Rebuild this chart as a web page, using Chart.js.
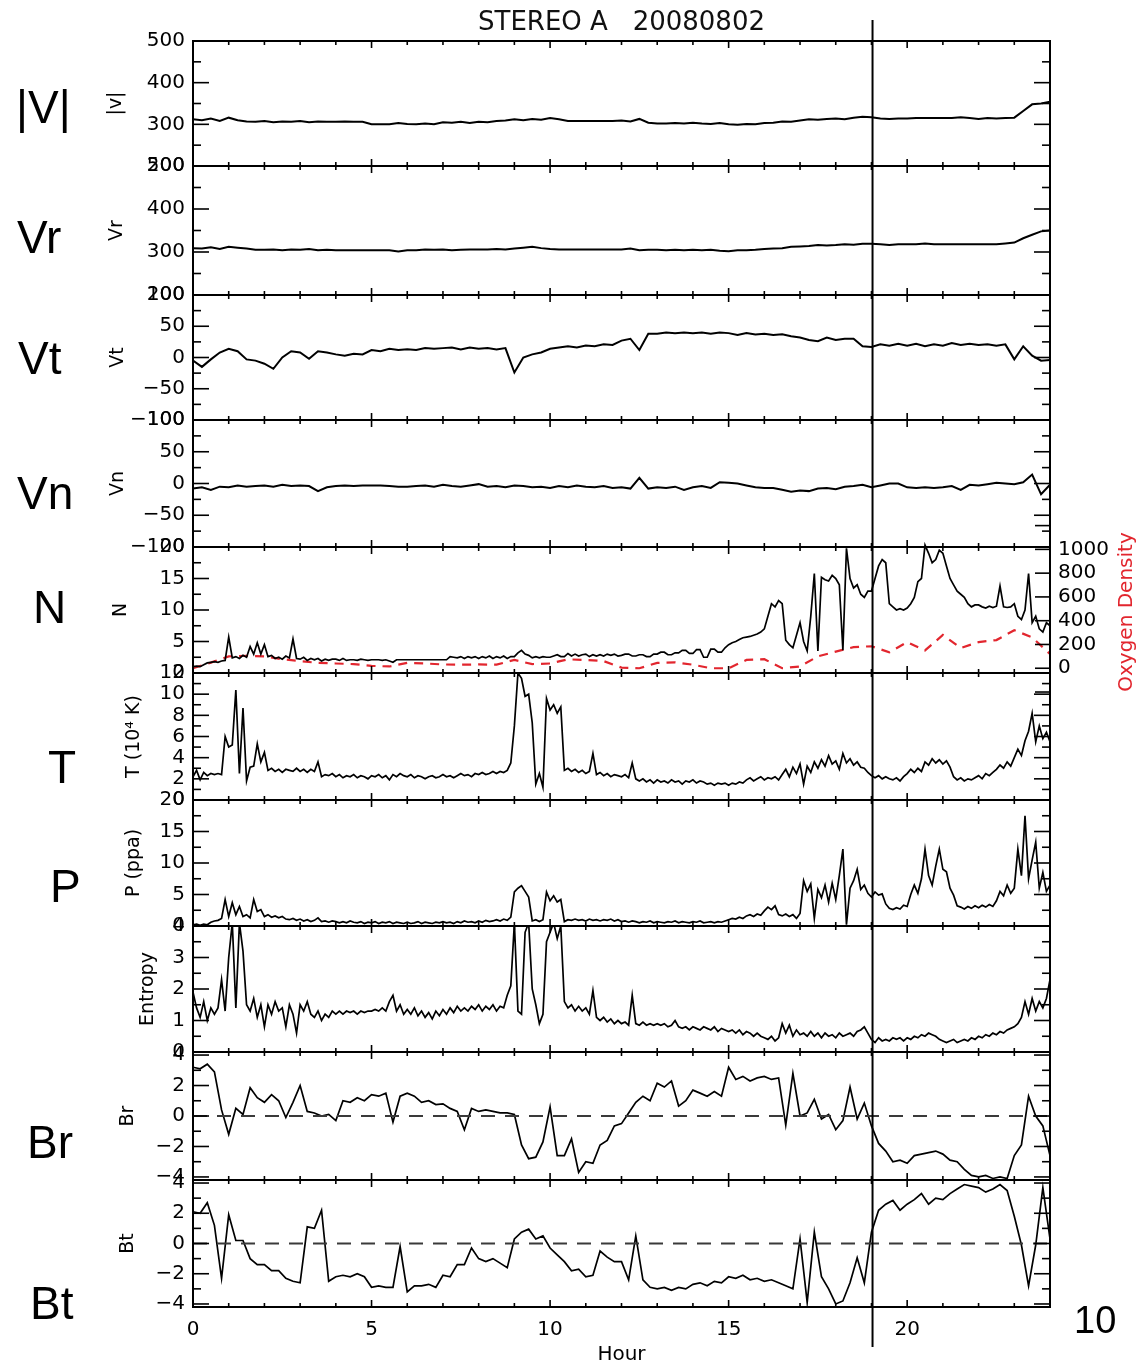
<!DOCTYPE html>
<html><head><meta charset="utf-8">
<script src="https://cdn.jsdelivr.net/npm/chart.js@4.4.1/dist/chart.umd.min.js"></script>
<style>
html,body{margin:0;padding:0;background:#fff;}
#wrap{position:relative;width:1147px;height:1369px;overflow:hidden;background:#fff;}
#wrap canvas{position:absolute;left:0;}
.big{position:absolute;z-index:5;font-family:"Liberation Sans",Arial,sans-serif;font-size:46px;line-height:46px;color:#000;white-space:nowrap;}
#title{position:absolute;z-index:5;left:0;width:1243px;text-align:center;top:8px;font-family:"DejaVu Sans",sans-serif;font-size:26px;line-height:26px;color:#111;white-space:pre;}
</style></head><body><div id="wrap"><div id="title">STEREO A   20080802</div></div>
<script>
// ---------- data ----------
const hourLabels = [0, 5, 10, 15, 20];
const markerHour = 19.03;

const vMag = [
 312,310,314,308, 316,310,307,306, 308,305,307,306, 308,305,307,306, 306,307,306,306,
 300,300,300,303, 301,300,302,300, 305,304,306,303, 306,305,308,309, 312,310,313,311,
 315,312,308,308, 308,308,308,308, 309,307,313,304, 302,302,303,302, 304,302,301,303,
 300,299,301,300, 303,304,307,306, 309,312,311,313, 314,312,316,318, 317,314,313,314,
 314,315,315,315, 315,315,317,315, 313,315,314,315, 316,332,348,350, 354];
const vRad = [
 309,308,311,307, 312,310,308,305, 305,306,304,306, 305,307,304,305, 304,304,304,304,
 304,304,304,301, 304,304,306,305, 306,304,305,306, 306,306,307,306, 308,310,312,309,
 307,306,306,306, 306,306,306,306, 306,308,304,305, 305,304,305,304, 305,304,305,303,
 302,304,304,305, 307,308,309,312, 313,314,316,315, 316,318,317,319, 319,318,316,318,
 318,318,320,318, 318,318,318,318, 318,318,318,320, 322,332,340,348, 350];
const vTan = [
 -5,-15,-3,8, 14,10,-3,-5, -10,-18,0,10, 8,-2,10,8, 5,3,6,5,
 12,10,14,12, 13,12,15,14, 15,16,13,16, 14,15,13,15, -24,0,5,8,
 14,16,18,16, 19,18,21,20, 27,30,12,38, 38,40,39,40, 39,40,38,40,
 39,36,39,37, 38,36,37,34, 32,28,26,32, 28,30,30,18, 17,21,19,22,
 19,22,18,21, 19,23,20,22, 20,21,19,21, -3,18,3,-5, -4];
const vNor = [
 -8,-6,-10,-5, -6,-3,-5,-4, -3,-5,-2,-4, -3,-4,-12,-6, -4,-3,-4,-3,
 -3,-3,-4,-5, -5,-4,-3,-5, -2,-4,-5,-3, -1,-5,-4,-6, -3,-4,-6,-5,
 -7,-4,-6,-3, -5,-6,-4,-7, -6,-8,9,-8, -6,-7,-5,-10, -6,-4,-7,2,
 1,0,-3,-6, -7,-7,-10,-13, -11,-12,-8,-7, -9,-5,-4,-2, -6,-3,0,0,
 -6,-7,-6,-7, -6,-4,-10,-2, -3,-1,1,0, -1,2,14,-17, -2];

const nDen = [
 1.0,1.1,1.0,1.3,1.6,1.7,1.8,1.7,1.9,2.0,
 5.7,2.4,2.6,2.3,2.8,2.5,4.2,3.0,4.8,3.0,
 4.5,2.6,2.8,2.3,2.5,2.2,2.7,2.4,5.4,2.3,
 2.2,2.5,2.0,2.3,2.1,2.3,1.9,2.2,2.0,2.2,
 2.2,2.0,2.3,2.0,2.1,2.1,2.0,2.2,2.1,2.0,
 2.1,2.1,2.1,2.0,2.1,1.9,1.7,2.1,2.1,2.1,
 2.1,2.1,2.1,2.1,2.1,2.1,2.1,2.1,2.1,2.1,
 2.1,2.1,2.6,2.5,2.4,2.6,2.3,2.6,2.4,2.6,
 2.3,2.6,2.4,2.7,2.3,2.6,2.4,2.7,2.3,2.6,
 2.6,3.2,3.6,3.0,2.8,2.4,2.6,2.4,2.6,2.5,
 2.5,2.7,2.9,2.6,2.6,3.1,2.7,3.0,2.7,2.9,
 3.0,2.6,2.9,2.7,2.9,2.7,3.0,2.8,3.0,2.7,
 2.8,3.0,3.0,2.7,2.7,2.9,2.9,2.6,2.6,3.0,
 3.0,3.3,3.3,2.9,2.9,3.2,3.2,3.6,3.6,3.1,
 3.1,3.7,3.7,2.5,2.5,3.8,3.8,3.3,3.3,4.0,
 4.5,4.8,5.0,5.3,5.6,5.7,5.8,6.0,6.2,6.5,
 7.0,9.0,11.0,10.5,11.5,11.0,5.2,4.5,4.0,6.0,
 8.0,5.0,3.5,9.0,15.8,3.5,15.2,14.8,14.6,15.5,
 15.0,14.0,3.6,19.8,15.0,13.5,14.0,12.5,12.0,13.0,
 13.0,15.0,17.0,18.0,17.5,11.0,10.5,10.0,10.2,10.0,
 10.3,11.0,12.0,14.5,15.0,20.3,19.0,17.5,18.0,19.5,
 19.0,17.0,15.0,14.0,13.0,12.5,12.0,11.0,10.5,10.8,
 10.8,10.5,10.3,10.6,10.4,10.6,13.8,10.5,10.4,10.5,
 11.0,9.0,8.5,10.0,15.8,8.0,9.0,7.0,6.5,8.0,
 7.5];
const oxyDen = [
 0,47,100,105,100,76,60,45,40,35,20,15,45,40,32,30,32,30,70,35,
 40,75,70,60,5,0,45,50,30,0,0,70,76,0,15,100,140,178,185,134,
 220,150,280,170,220,237,320,260,120];

const temp = [
 2.2,2.8,1.9,2.6,2.3,2.5,2.4,2.5,2.4,6.0,
 5.0,5.2,10.4,2.5,8.7,1.8,3.1,3.2,5.3,3.6,
 4.5,2.8,3.0,2.7,2.9,2.6,2.9,2.8,2.7,3.0,
 2.7,2.9,2.6,2.9,2.7,3.6,2.2,2.4,2.3,2.5,
 2.2,2.4,2.1,2.3,2.2,2.4,2.1,2.3,2.2,2.0,
 2.3,2.2,2.4,2.1,2.3,1.9,2.4,2.2,2.5,2.3,
 2.2,2.4,2.1,2.3,2.2,2.0,2.2,2.3,2.1,2.2,
 2.4,2.2,2.3,2.1,2.3,2.5,2.3,2.4,2.2,2.5,
 2.4,2.6,2.4,2.5,2.7,2.5,2.7,2.6,2.8,3.5,
 7.0,12.0,11.5,9.8,10.0,7.3,1.5,2.5,1.2,9.6,
 8.5,9.0,8.2,8.8,2.8,3.0,2.7,2.9,2.6,2.8,
 2.5,2.7,4.4,2.4,2.6,2.3,2.5,2.2,2.4,2.3,
 2.2,2.4,2.1,3.5,2.0,1.8,2.0,1.7,1.9,1.6,
 1.9,1.7,1.8,1.6,1.9,1.7,1.8,1.5,1.8,1.7,
 1.9,1.6,1.8,1.7,1.5,1.6,1.4,1.6,1.5,1.6,
 1.4,1.6,1.5,1.7,1.6,1.9,2.1,1.8,2.0,2.2,
 1.9,2.1,2.0,2.2,1.9,2.4,2.9,2.2,3.1,2.5,
 3.4,1.5,3.2,2.6,3.6,3.0,3.8,3.2,4.2,3.4,
 3.7,2.9,4.4,3.5,3.9,3.3,3.6,3.1,3.0,2.6,
 2.3,2.1,2.3,2.0,2.2,2.0,1.9,2.1,1.8,2.2,
 2.5,2.9,2.6,3.0,2.7,3.6,3.3,3.9,3.5,3.8,
 3.4,3.7,3.1,2.2,1.9,2.1,1.8,2.0,1.9,2.1,
 2.3,2.0,2.5,2.3,2.6,2.9,3.3,3.0,3.6,3.2,
 4.0,4.8,4.2,5.6,6.5,8.2,5.5,7.0,5.8,6.4,
 5.5];

const press = [
 0.2,0.3,0.1,0.3,0.2,0.6,0.8,0.9,1.2,4.2,
 1.5,3.7,1.8,3.1,1.5,1.8,1.3,4.2,2.3,2.6,
 1.5,1.8,1.4,1.6,1.3,1.5,1.1,1.0,1.2,0.9,
 1.1,0.8,1.0,0.7,0.9,1.3,0.7,0.8,0.6,0.8,
 0.7,0.5,0.7,0.5,0.8,0.6,0.5,0.7,0.4,0.6,
 0.5,0.7,0.4,0.6,0.5,0.7,0.4,0.6,0.5,0.4,
 0.6,0.4,0.5,0.7,0.4,0.6,0.5,0.4,0.6,0.5,
 0.7,0.5,0.6,0.4,0.7,0.5,0.8,0.6,0.7,0.5,
 0.8,0.6,0.9,0.7,0.8,1.0,0.8,1.1,0.9,1.4,
 5.4,6.0,6.4,5.5,4.6,0.8,1.0,0.7,1.0,5.4,
 4.0,4.8,3.8,4.2,0.7,1.0,0.9,1.1,0.9,1.0,
 0.8,1.1,0.9,1.0,0.8,1.0,0.9,1.1,0.8,1.0,
 0.7,0.8,0.6,0.8,0.7,0.5,0.7,0.6,0.8,0.5,
 0.7,0.6,0.5,0.7,0.6,0.8,0.5,0.7,0.6,0.5,
 0.7,0.6,0.8,0.5,0.6,0.7,0.5,0.7,0.6,0.8,
 1.0,1.2,1.1,1.4,1.2,1.6,1.8,1.5,1.9,1.7,
 2.4,3.0,2.6,3.2,1.8,1.6,1.9,1.5,1.8,1.2,
 2.0,7.2,5.5,6.7,1.2,5.8,4.5,6.5,3.8,6.8,
 4.2,8.0,12.2,0.2,6.0,7.2,9.0,5.8,6.5,5.2,
 4.6,5.4,4.9,5.1,3.5,2.8,2.6,2.9,2.7,3.3,
 3.1,5.0,6.5,5.2,7.5,12.2,8.0,6.5,9.5,12.2,
 9.0,8.6,6.0,4.9,3.2,3.0,2.7,3.1,2.8,3.2,
 2.9,3.3,3.0,3.4,3.1,4.0,5.5,4.8,6.5,5.2,
 6.0,12.2,8.0,17.5,7.5,10.5,13.3,6.0,8.5,5.5,
 6.5];

const entropy = [
 1.9,1.4,1.1,1.6,1.0,1.4,1.2,1.4,2.3,1.3,
 3.0,4.1,1.4,4.1,3.2,1.5,1.3,1.7,1.1,1.5,
 0.8,1.5,1.2,1.6,1.3,1.4,0.8,1.5,1.2,0.6,
 1.5,1.3,1.6,1.2,1.1,1.3,1.0,1.2,1.1,1.3,
 1.2,1.3,1.2,1.3,1.25,1.3,1.2,1.3,1.25,1.3,
 1.3,1.35,1.3,1.4,1.3,1.6,1.8,1.3,1.5,1.2,
 1.35,1.2,1.4,1.15,1.3,1.1,1.25,1.05,1.3,1.15,
 1.35,1.2,1.4,1.25,1.45,1.3,1.4,1.3,1.45,1.35,
 1.5,1.3,1.45,1.35,1.5,1.3,1.45,1.4,1.8,2.1,
 4.1,1.3,1.2,3.8,4.1,2.0,1.5,0.9,1.2,3.5,
 3.8,4.1,3.6,4.0,1.6,1.4,1.5,1.3,1.45,1.3,
 1.4,1.2,1.95,1.1,1.0,1.1,0.95,1.05,0.9,1.0,
 0.9,0.95,0.85,1.8,0.9,0.85,0.95,0.85,0.9,0.85,
 0.9,0.85,0.9,0.8,0.85,1.0,0.8,0.75,0.8,0.7,
 0.8,0.75,0.7,0.8,0.75,0.7,0.8,0.65,0.75,0.7,
 0.65,0.7,0.6,0.7,0.55,0.65,0.6,0.5,0.6,0.5,
 0.45,0.4,0.5,0.35,0.45,0.9,0.6,0.85,0.5,0.7,
 0.55,0.6,0.5,0.65,0.5,0.6,0.45,0.6,0.5,0.55,
 0.45,0.6,0.5,0.55,0.6,0.5,0.65,0.7,0.8,0.6,
 0.4,0.3,0.45,0.35,0.4,0.35,0.45,0.4,0.45,0.35,
 0.45,0.4,0.5,0.45,0.55,0.5,0.6,0.55,0.5,0.4,
 0.35,0.3,0.35,0.4,0.3,0.35,0.4,0.35,0.45,0.4,
 0.5,0.45,0.55,0.5,0.6,0.55,0.65,0.6,0.7,0.75,
 0.8,0.9,1.1,1.6,1.2,1.7,1.3,1.6,1.4,1.7,
 2.3];

const bR = [
 3.2,3.1,3.4,2.9,0.4,-1.2,0.5,0.1,1.85,1.2,
 0.9,1.4,1.0,-0.1,0.9,2.0,0.3,0.2,0.0,0.1,
 -0.3,1.0,0.9,1.2,1.0,1.4,1.3,1.5,-0.4,1.3,
 1.5,1.3,0.9,1.0,0.75,0.8,0.5,0.3,-0.9,0.5,
 0.3,0.4,0.3,0.2,0.2,0.1,-1.9,-2.8,-2.7,-1.7,
 0.6,-2.6,-2.6,-1.5,-3.7,-3.0,-3.1,-1.9,-1.6,-0.65,
 -0.5,0.2,0.9,1.3,1.0,2.15,1.9,2.3,0.65,1.0,
 1.7,1.5,1.3,1.6,1.3,3.2,2.4,2.6,2.3,2.5,
 2.6,2.4,2.5,-0.6,2.8,0.0,0.2,1.1,-0.2,0.1,
 -0.9,-0.3,1.9,-0.2,0.85,-0.65,-1.8,-2.3,-3.0,-2.9,
 -3.1,-2.6,-2.5,-2.4,-2.3,-2.5,-2.9,-3.0,-3.5,-3.9,
 -4.0,-3.9,-4.1,-4.0,-4.1,-2.6,-1.9,1.3,0.0,-0.65,
 -2.6];
const bT = [
 2.1,2.0,2.7,1.2,-2.3,1.9,0.2,0.2,-1.0,-1.4,
 -1.4,-1.8,-1.8,-2.3,-2.5,-2.6,1.1,1.0,2.2,-2.5,
 -2.2,-2.1,-2.2,-2.0,-2.2,-2.9,-2.8,-2.9,-2.9,-0.2,
 -3.2,-2.8,-2.8,-2.7,-2.9,-2.1,-2.2,-1.4,-1.4,-0.3,
 -1.0,-1.2,-1.0,-1.3,-1.6,0.3,0.75,0.95,0.3,0.5,
 -0.3,-0.75,-1.2,-1.8,-1.7,-2.2,-2.1,-0.5,-0.9,-1.2,
 -1.2,-2.4,0.5,-2.4,-2.9,-3.0,-2.9,-3.1,-2.9,-3.0,
 -2.7,-2.6,-2.8,-2.5,-2.6,-2.2,-2.3,-2.1,-2.4,-2.3,
 -2.5,-2.4,-2.6,-2.8,-3.0,0.3,-3.9,0.75,-2.2,-3.0,
 -4.0,-3.8,-2.6,-0.95,-2.6,0.75,2.2,2.6,2.85,2.2,
 2.6,2.9,3.3,2.6,3.0,2.9,3.3,3.6,3.9,3.8,
 3.7,3.4,3.6,3.9,3.5,1.8,-0.1,-2.8,-0.1,3.7,
 0.3];
const zeroLine = [0, 0];
const zeroHours = [0, 24];

// tick values
const vTicks = [200,300,400,500], vMinor = [250,350,450];
const cTicks = [-100,-50,0,50,100], cMinor = [-75,-25,25,75];
const nTicks = [0,5,10,15,20], nMinor = [2.5,7.5,12.5,17.5];
const tTicks = [0,2,4,6,8,10,12], tMinor = [1,3,5,7,9,11];
const pTicks = [0,5,10,15,20], pMinor = [2.5,7.5,12.5,17.5];
const eTicks = [0,1,2,3,4], eMinor = [0.5,1.5,2.5,3.5];
const bTicks = [-4,-2,0,2,4], bMinor = [-3,-1,1,3];
const oxyTicks = [0,200,400,600,800,1000], oxyExtTicks = [-200,1200];

// ---------- helpers ----------
const grid = (n, step) => Array.from({length: n}, (_, i) => +(i * step).toFixed(2));
const h01 = grid(241, 0.1), h02 = grid(121, 0.2), h025 = grid(97, 0.25), h05 = grid(49, 0.5);
const pts = (hrs, vals) => vals.map((v, i) => ({x: hrs[i], y: v}));
const fmt = v => (v < 0 ? '\u2212' + Math.abs(v) : String(v));
const hourMinorTicks = grid(25, 1);
const FONT = '"DejaVu Sans", sans-serif';
const RED = '#e2262e';

function seg(ctx, x1, y1, x2, y2) { ctx.beginPath(); ctx.moveTo(x1, y1); ctx.lineTo(x2, y2); ctx.stroke(); }

const framePlugin = {
  id: 'frame',
  afterDatasetsDraw(chart, args, o) {
    const {ctx, chartArea: a, scales: s} = chart;
    const x = s.x, y = s.y;
    ctx.save();
    ctx.strokeStyle = '#000';
    ctx.lineWidth = 1.6;
    hourMinorTicks.forEach(h => {
      const px = x.getPixelForValue(h);
      const L = hourLabels.includes(h) ? 7 : 4;
      seg(ctx, px, a.top, px, a.top + L);
      seg(ctx, px, a.bottom, px, a.bottom - L);
    });
    o.major.forEach(v => { const py = y.getPixelForValue(v); seg(ctx, a.left, py, a.left + 16, py); if (!o.oxy) seg(ctx, a.right, py, a.right - 16, py); });
    o.minor.forEach(v => { const py = y.getPixelForValue(v); seg(ctx, a.left, py, a.left + 8, py); if (!o.oxy) seg(ctx, a.right, py, a.right - 8, py); });
    if (o.oxy) {
      const yo = s.yO;
      oxyTicks.concat(oxyExtTicks).forEach(v => { const py = yo.getPixelForValue(v); seg(ctx, a.right, py, a.right - 15, py); });
      ctx.lineWidth = 2;
      seg(ctx, a.right, yo.getPixelForValue(1260), a.right, yo.getPixelForValue(-270));
      ctx.save();
      ctx.translate(yo.right - 20, (a.top + a.bottom) / 2 + 2);
      ctx.rotate(-Math.PI / 2);
      ctx.fillStyle = RED; ctx.font = '20px ' + FONT; ctx.textAlign = 'center'; ctx.textBaseline = 'middle';
      ctx.fillText('Oxygen Density', 0, 0);
      ctx.restore();
    }
    ctx.lineWidth = 2;
    ctx.strokeRect(a.left, a.top, a.width, a.height);
    const mx = x.getPixelForValue(markerHour);
    seg(ctx, mx, a.top - o.extTop, mx, a.bottom + o.extBottom);
    ctx.restore();
  }
};

const wrap = document.getElementById('wrap');

function yAxis(min, max, major, title, titleCenter) {
  return {
    type: 'linear', position: 'left', min, max,
    afterBuildTicks: sc => { sc.ticks = major.map(v => ({value: v})); },
    afterFit: sc => { sc.width = 103; },
    grid: {display: false, drawTicks: false}, border: {display: false},
    ticks: {autoSkip: false, color: '#000', padding: 8, font: {family: FONT, size: 20}, callback: fmt},
    title: {display: true, text: title, color: '#000', font: {family: FONT, size: 19}, padding: {top: titleCenter - 90 - 11.4, bottom: 0}}
  };
}

function makePanel(p) {
  const c = document.createElement('canvas');
  c.width = 1147; c.height = p.canvasH;
  c.style.top = p.canvasTop + 'px';
  c.style.width = '1147px'; c.style.height = p.canvasH + 'px';
  wrap.appendChild(c);
  const last = !!p.last;
  const scales = {
    x: last ? {
      type: 'linear', min: 0, max: 24,
      afterBuildTicks: sc => { sc.ticks = hourLabels.map(v => ({value: v})); },
      afterFit: sc => { sc.height = 62; },
      grid: {display: false, drawTicks: false}, border: {display: false},
      ticks: {autoSkip: false, maxRotation: 0, color: '#000', padding: 11, font: {family: FONT, size: 20}},
      title: {display: true, text: 'Hour', color: '#000', font: {family: FONT, size: 20}, padding: {top: 0, bottom: 2}}
    } : {type: 'linear', min: 0, max: 24, display: false},
    y: yAxis(p.min, p.max, p.major, p.title, p.titleCenter)
  };
  if (p.oxy) {
    scales.yO = {
      type: 'linear', position: 'right', min: -40, max: 1020,
      afterBuildTicks: sc => { sc.ticks = oxyTicks.map(v => ({value: v})); },
      afterFit: sc => { sc.width = 97; },
      grid: {display: false, drawTicks: false}, border: {display: false},
      ticks: {autoSkip: false, color: '#000', padding: 8, font: {family: FONT, size: 20}, callback: v => String(v)}
    };
  }
  new Chart(c.getContext('2d'), {
    type: 'line',
    data: {datasets: p.datasets},
    options: {
      responsive: false, animation: false, events: [], devicePixelRatio: 1,
      layout: {padding: {left: 90, right: p.oxy ? 0 : 97, top: p.padTop, bottom: p.padBottom}},
      plugins: {legend: {display: false}, tooltip: {enabled: false},
        frame: {major: p.major, minor: p.minor, oxy: !!p.oxy, extTop: p.extTop || 0, extBottom: p.extBottom || 0}},
      elements: {point: {radius: 0}, line: {tension: 0}},
      scales
    },
    plugins: [framePlugin]
  });
}

const blackLine = (data, extra) => Object.assign({data, borderColor: '#000', borderWidth: 1.7, pointRadius: 0, yAxisID: 'y'}, extra || {});
const zeroDash = () => ({data: pts(zeroHours, zeroLine), borderColor: '#3a3a3a', borderWidth: 2, borderDash: [14, 10], pointRadius: 0, yAxisID: 'y'});

// panels: plot areas 41-166, 166-295, 295-420, 420-547, 547-673, 673-800, 800-926, 926-1052, 1052-1180, 1180-1307
makePanel({canvasTop: 0, canvasH: 188, padTop: 41, padBottom: 22, extTop: 21, min: 200, max: 500, major: vTicks, minor: vMinor, title: '|v|', titleCenter: 116, datasets: [blackLine(pts(h025, vMag), {borderWidth: 2})]});
makePanel({canvasTop: 144, canvasH: 173, padTop: 22, padBottom: 22, min: 200, max: 500, major: vTicks, minor: vMinor, title: 'Vr', titleCenter: 117, datasets: [blackLine(pts(h025, vRad), {borderWidth: 2})]});
makePanel({canvasTop: 273, canvasH: 169, padTop: 22, padBottom: 22, min: -100, max: 100, major: cTicks, minor: cMinor, title: 'Vt', titleCenter: 118, datasets: [blackLine(pts(h025, vTan), {borderWidth: 2})]});
makePanel({canvasTop: 398, canvasH: 171, padTop: 22, padBottom: 22, min: -100, max: 100, major: cTicks, minor: cMinor, title: 'Vn', titleCenter: 118, datasets: [blackLine(pts(h025, vNor), {borderWidth: 2})]});
makePanel({canvasTop: 515, canvasH: 190, padTop: 32, padBottom: 32, oxy: true, min: 0, max: 20, major: nTicks, minor: nMinor, title: 'N', titleCenter: 121,
  datasets: [blackLine(pts(h01, nDen), {clip: {left: 0, top: 8, right: 0, bottom: 0}}),
             {data: pts(h05, oxyDen), borderColor: RED, borderWidth: 2.2, borderDash: [9, 7], pointRadius: 0, yAxisID: 'yO'}]});
makePanel({canvasTop: 651, canvasH: 171, padTop: 22, padBottom: 22, min: 0, max: 12, major: tTicks, minor: tMinor, title: 'T (10\u2074 K)', titleCenter: 134, datasets: [blackLine(pts(h01, temp))]});
makePanel({canvasTop: 778, canvasH: 170, padTop: 22, padBottom: 22, min: 0, max: 20, major: pTicks, minor: pMinor, title: 'P (ppa)', titleCenter: 134, datasets: [blackLine(pts(h01, press))]});
makePanel({canvasTop: 904, canvasH: 170, padTop: 22, padBottom: 22, min: 0, max: 4, major: eTicks, minor: eMinor, title: 'Entropy', titleCenter: 148, datasets: [blackLine(pts(h01, entropy))]});
makePanel({canvasTop: 1030, canvasH: 172, padTop: 22, padBottom: 22, min: -4.2, max: 4.2, major: bTicks, minor: bMinor, title: 'Br', titleCenter: 128, datasets: [zeroDash(), blackLine(pts(h02, bR))]});
makePanel({canvasTop: 1158, canvasH: 211, padTop: 22, padBottom: 0, last: true, extBottom: 40, min: -4.2, max: 4.2, major: bTicks, minor: bMinor, title: 'Bt', titleCenter: 128, datasets: [zeroDash(), blackLine(pts(h02, bT))]});

// big panel labels on the left
const bigLabels = [
  {t: '|V|', x: 16, y: 107}, {t: 'Vr', x: 17, y: 237}, {t: 'Vt', x: 18, y: 358}, {t: 'Vn', x: 17, y: 493},
  {t: 'N', x: 33, y: 607}, {t: 'T', x: 48, y: 767}, {t: 'P', x: 50, y: 886}, {t: 'Br', x: 27, y: 1142},
  {t: 'Bt', x: 30, y: 1303}, {t: '10', x: 1074, y: 1320, size: 38}
];
bigLabels.forEach(b => {
  const d = document.createElement('div');
  d.className = 'big';
  d.textContent = b.t;
  const sz = b.size || 46;
  d.style.fontSize = sz + 'px'; d.style.lineHeight = sz + 'px';
  d.style.left = b.x + 'px'; d.style.top = (b.y - sz / 2) + 'px';
  wrap.appendChild(d);
});
</script>
</body></html>
